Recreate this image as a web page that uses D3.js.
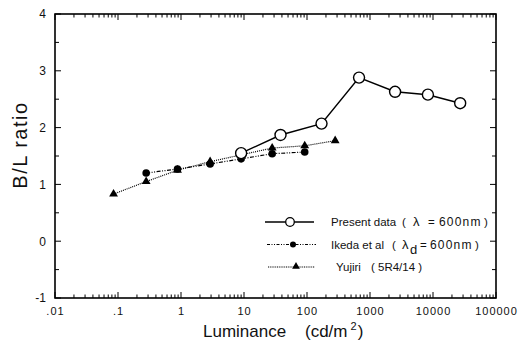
<!DOCTYPE html>
<html>
<head>
<meta charset="utf-8">
<script src="https://cdn.jsdelivr.net/npm/d3@7"></script>
<style>
  html, body { margin: 0; padding: 0; background: #fff; }
  svg { display: block; font-family: "Liberation Sans", Arial, Helvetica, sans-serif; }
</style>
</head>
<body>
<svg id="chart" width="529" height="345"></svg>
<script>
// Brightness-to-luminance ratio vs. luminance for three data sets
const presentLum   = [9, 38, 170, 670, 2500, 8300, 27000];
const presentRatio = [1.55, 1.87, 2.07, 2.88, 2.63, 2.58, 2.43];

const ikedaLum   = [0.28, 0.88, 2.9, 9, 28, 92];
const ikedaRatio = [1.20, 1.27, 1.36, 1.45, 1.54, 1.57];

const yujiriLum   = [0.085, 0.28, 0.88, 2.9, 9, 28, 92, 280];
const yujiriRatio = [0.83, 1.05, 1.25, 1.40, 1.52, 1.64, 1.68, 1.77];

const xTickValues = [0.01, 0.1, 1, 10, 100, 1000, 10000, 100000];
const xTickLabels = [".01", ".1", "1", "10", "100", "1000", "10000", "100000"];
const yTickValues = [-1, 0, 1, 2, 3, 4];
const yTickLabels = ["-1", "0", "1", "2", "3", "4"];

const width = 529, height = 345;
const margin = { left: 55, right: 33, top: 14, bottom: 47 };

const svg = d3.select("#chart");

const x = d3.scaleLog().domain([0.01, 100000]).range([margin.left, width - margin.right]);
const y = d3.scaleLinear().domain([-1, 4]).range([height - margin.bottom, margin.top]);

const x0 = x.range()[0], x1 = x.range()[1];
const y0 = y.range()[0], y1 = y.range()[1];

// minor log ticks (2..9 per decade)
const minorX = [];
for (let e = -2; e < 5; e++) {
  for (let m = 2; m <= 9; m++) minorX.push(m * Math.pow(10, e));
}
const halfY = d3.range(-1, 4.01, 0.5);

const ticks = svg.append("g").attr("stroke", "#000").attr("stroke-width", 1);
// bottom & top x ticks, pointing inward
xTickValues.forEach(v => {
  ticks.append("line").attr("x1", x(v)).attr("x2", x(v)).attr("y1", y0).attr("y2", y0 - 6);
  ticks.append("line").attr("x1", x(v)).attr("x2", x(v)).attr("y1", y1).attr("y2", y1 + 6);
});
minorX.forEach(v => {
  ticks.append("line").attr("x1", x(v)).attr("x2", x(v)).attr("y1", y0).attr("y2", y0 - 3.5);
  ticks.append("line").attr("x1", x(v)).attr("x2", x(v)).attr("y1", y1).attr("y2", y1 + 3.5);
});
// left & right y ticks every 0.5, pointing inward
halfY.forEach(v => {
  const len = Number.isInteger(v) ? 6 : 4;
  ticks.append("line").attr("x1", x0).attr("x2", x0 + len).attr("y1", y(v)).attr("y2", y(v));
  ticks.append("line").attr("x1", x1).attr("x2", x1 - len).attr("y1", y(v)).attr("y2", y(v));
});

// frame
svg.append("rect")
  .attr("x", x0).attr("y", y1)
  .attr("width", x1 - x0).attr("height", y0 - y1)
  .attr("fill", "none").attr("stroke", "#000").attr("stroke-width", 1.6);

// tick labels
const xAxis = d3.axisBottom(x).tickValues(xTickValues)
  .tickFormat((d, i) => xTickLabels[i]).tickSize(0).tickPadding(9);
const gx = svg.append("g").attr("transform", `translate(0,${y0})`).call(xAxis);
gx.select(".domain").remove();
gx.selectAll("text").attr("font-size", 11).attr("letter-spacing", "1px")
  .attr("font-family", "Liberation Sans, Arial, sans-serif").attr("fill", "#111");

const yAxis = d3.axisLeft(y).tickValues(yTickValues)
  .tickFormat((d, i) => yTickLabels[i]).tickSize(0).tickPadding(9);
const gy = svg.append("g").attr("transform", `translate(${x0},0)`).call(yAxis);
gy.select(".domain").remove();
gy.selectAll("text").attr("font-size", 12)
  .attr("font-family", "Liberation Sans, Arial, sans-serif").attr("fill", "#111");

// axis titles
const xt = svg.append("text")
  .attr("x", 203).attr("y", 337)
  .attr("font-size", 17).attr("fill", "#111");
xt.append("tspan").text("Luminance");
xt.append("tspan").attr("x", 305).text("(cd/m");
xt.append("tspan").attr("dx", 3).attr("dy", -7).attr("font-size", 11).text("2");
xt.append("tspan").attr("dx", 1).attr("dy", 7).text(")");

svg.append("text")
  .attr("transform", "translate(27,145) rotate(-90)")
  .attr("text-anchor", "middle")
  .attr("font-size", 20).attr("letter-spacing", "1.5px").attr("fill", "#111")
  .text("B/L ratio");

// series
const line = d3.line().x(d => x(d[0])).y(d => y(d[1]));
const pts = (xs, ys) => xs.map((v, i) => [v, ys[i]]);

const yujiri = pts(yujiriLum, yujiriRatio);
const ikeda = pts(ikedaLum, ikedaRatio);
const present = pts(presentLum, presentRatio);

const tri = d3.symbol().type(d3.symbolTriangle).size(34);

svg.append("path").datum(yujiri).attr("d", line)
  .attr("fill", "none").attr("stroke", "#000").attr("stroke-width", 1.2)
  .attr("stroke-dasharray", "1,1");
svg.append("g").selectAll("path").data(yujiri).join("path")
  .attr("d", tri).attr("transform", d => `translate(${x(d[0])},${y(d[1])})`)
  .attr("fill", "#000");

svg.append("path").datum(ikeda).attr("d", line)
  .attr("fill", "none").attr("stroke", "#000").attr("stroke-width", 1.2)
  .attr("stroke-dasharray", "4,1.5,1,1.5,1,1.5");
svg.append("g").selectAll("circle").data(ikeda).join("circle")
  .attr("cx", d => x(d[0])).attr("cy", d => y(d[1])).attr("r", 3.8)
  .attr("fill", "#000");

svg.append("path").datum(present).attr("d", line)
  .attr("fill", "none").attr("stroke", "#000").attr("stroke-width", 1.5);
svg.append("g").selectAll("circle").data(present).join("circle")
  .attr("cx", d => x(d[0])).attr("cy", d => y(d[1])).attr("r", 5.5)
  .attr("fill", "#fff").attr("stroke", "#000").attr("stroke-width", 1.4);

// legend
const legend = svg.append("g").attr("font-size", 11.5).attr("fill", "#111");
const rows = [222, 244.5, 267];

legend.append("line").attr("x1", 265).attr("x2", 314).attr("y1", rows[0]).attr("y2", rows[0])
  .attr("stroke", "#000").attr("stroke-width", 1.5);
legend.append("circle").attr("cx", 290).attr("cy", rows[0]).attr("r", 4.3)
  .attr("fill", "#fff").attr("stroke", "#000").attr("stroke-width", 1.3);
const t1 = legend.append("text").attr("y", rows[0] + 4);
t1.append("tspan").attr("x", 331).text("Present data");
t1.append("tspan").attr("x", 402).text("(");
t1.append("tspan").attr("x", 413).attr("font-size", 13).text("λ");
t1.append("tspan").attr("x", 428).text("=");
t1.append("tspan").attr("x", 439).attr("font-size", 12).attr("letter-spacing", "1.2px").text("600nm");
t1.append("tspan").attr("x", 484).text(")");

legend.append("line").attr("x1", 267).attr("x2", 316).attr("y1", rows[1]).attr("y2", rows[1])
  .attr("stroke", "#000").attr("stroke-width", 1)
  .attr("stroke-dasharray", "3,1.5,1,1.5,1,1.5");
legend.append("circle").attr("cx", 293).attr("cy", rows[1]).attr("r", 3)
  .attr("fill", "#000");
const t2 = legend.append("text").attr("y", rows[1] + 4);
t2.append("tspan").attr("x", 331).text("Ikeda et al");
t2.append("tspan").attr("x", 392).text("(");
t2.append("tspan").attr("x", 402).attr("font-size", 13).text("λ");
t2.append("tspan").attr("x", 410).attr("dy", 5).attr("font-size", 13).text("d");
t2.append("tspan").attr("x", 420).attr("dy", -5).text("=");
t2.append("tspan").attr("x", 430).attr("font-size", 12).attr("letter-spacing", "1.2px").text("600nm");
t2.append("tspan").attr("x", 475).text(")");

legend.append("line").attr("x1", 268).attr("x2", 315).attr("y1", rows[2]).attr("y2", rows[2])
  .attr("stroke", "#000").attr("stroke-width", 1.1)
  .attr("stroke-dasharray", "1,0.8");
legend.append("path").attr("d", d3.symbol().type(d3.symbolTriangle).size(26))
  .attr("transform", `translate(296,${rows[2] - 0.5})`).attr("fill", "#000");
const t3 = legend.append("text").attr("y", rows[2] + 4);
t3.append("tspan").attr("x", 336).text("Yujiri");
t3.append("tspan").attr("x", 371).text("( 5R4/14 )");
</script>
</body>
</html>
